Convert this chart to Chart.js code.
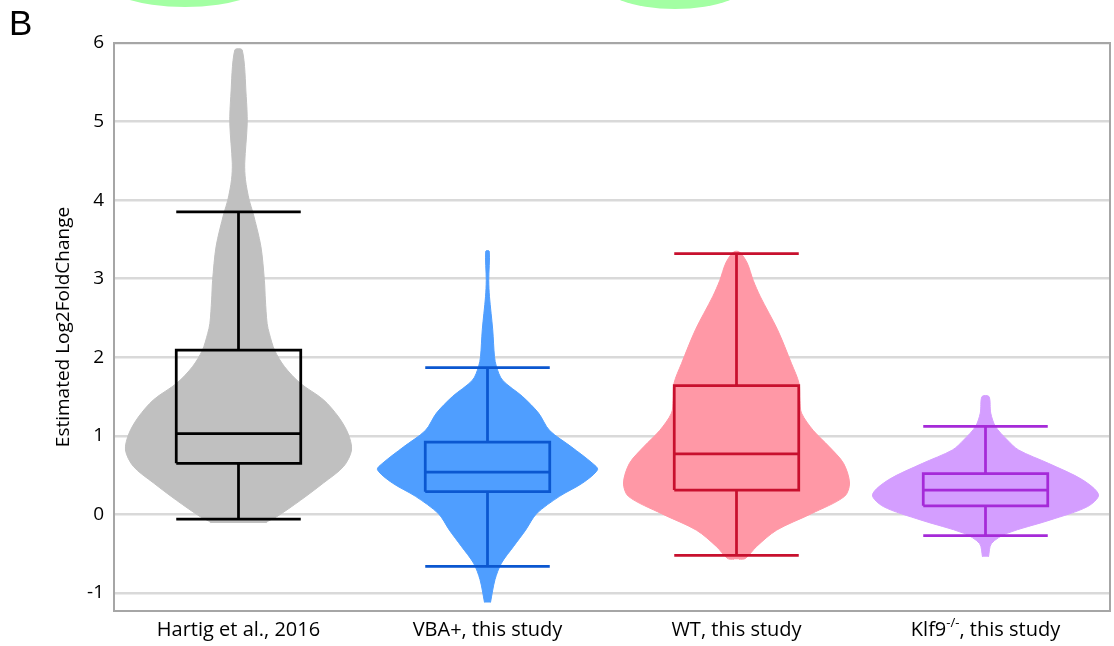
<!DOCTYPE html>
<html>
<head>
<meta charset="utf-8">
<script src="https://cdn.jsdelivr.net/npm/chart.js@4.4.1/dist/chart.umd.min.js"></script>
<style>
  body { margin: 0; background: #fff; overflow: hidden; }
  #wrap { position: relative; width: 1114px; height: 646px; }
  #chart { position: absolute; left: 0; top: 0; }
  .blob { position: absolute; background: #a3ffa3; border-radius: 50%; }
  #panel { position: absolute; left: 9px; top: 5px; font: 35px "Liberation Sans", Arial, sans-serif; color: #000; line-height: 35px; }
</style>
</head>
<body>
<div id="wrap">
  <canvas id="chart" width="1114" height="646"></canvas>
  <div class="blob" style="left:99px; top:-53px; width:172px; height:60px;"></div>
  <div class="blob" style="left:598px; top:-51px; width:154px; height:60px;"></div>
  <div id="panel">B</div>
</div>
<script>
// groups on the x axis
var categories = ['Hartig et al., 2016', 'VBA+, this study', 'WT, this study', 'Klf9-/-, this study'];
var yTicks = [-1, 0, 1, 2, 3, 4, 5, 6];

// box plot stats per group
var whiskerHigh = [3.85, 1.87, 3.32, 1.12];
var q3 = [2.09, 0.92, 1.64, 0.52];
var median = [1.03, 0.54, 0.77, 0.31];
var q1 = [0.65, 0.29, 0.31, 0.11];
var whiskerLow = [-0.06, -0.66, -0.52, -0.27];

// violin outlines: [value, half width in group units], bottom to top
var hartigDensity = [[-0.11, 0.112], [-0.09, 0.116], [-0.03, 0.153], [0.18, 0.249], [0.40, 0.341], [0.61, 0.422],
  [0.82, 0.454], [1.03, 0.440], [1.24, 0.402], [1.46, 0.341], [1.67, 0.248], [1.88, 0.185], [2.09, 0.145],
  [2.30, 0.124], [2.43, 0.115], [2.73, 0.108], [2.98, 0.104], [3.41, 0.090], [3.83, 0.059], [4.00, 0.043],
  [4.26, 0.028], [4.47, 0.025], [4.98, 0.035], [5.32, 0.031], [5.91, 0.015]];
var vbaDensity = [[-1.12, 0.012], [-0.83, 0.030], [-0.62, 0.056], [-0.41, 0.104], [-0.20, 0.153], [0.01, 0.197],
  [0.23, 0.289], [0.40, 0.382], [0.57, 0.442], [0.65, 0.422], [0.86, 0.337], [1.07, 0.249], [1.29, 0.205],
  [1.50, 0.141], [1.71, 0.060], [1.88, 0.036], [2.01, 0.028], [2.35, 0.021], [2.77, 0.008], [2.98, 0.005],
  [3.35, 0.007]];
var wtDensity = [[-0.57, 0.010], [-0.56, 0.036], [-0.41, 0.080], [-0.20, 0.161], [0.01, 0.301], [0.23, 0.434],
  [0.40, 0.454], [0.65, 0.430], [0.86, 0.373], [1.07, 0.308], [1.29, 0.261], [1.45, 0.255], [1.67, 0.251],
  [1.92, 0.221], [2.35, 0.165], [2.77, 0.096], [2.98, 0.067], [3.20, 0.043], [3.34, 0.012]];
var klf9Density = [[-0.54, 0.012], [-0.37, 0.024], [-0.24, 0.087], [-0.07, 0.261], [0.10, 0.410], [0.25, 0.454],
  [0.44, 0.390], [0.65, 0.253], [0.82, 0.133], [0.95, 0.087], [1.12, 0.040], [1.29, 0.021], [1.50, 0.014]];

var densities = [hartigDensity, vbaDensity, wtDensity, klf9Density];
var violinColors = ['#c0c0c0', '#4f9eff', '#ff98a6', '#d49eff'];
var lineColors = ['#000000', '#0b57d0', '#c8102e', '#a52ad8'];
var boxHalf = 0.25;
var font = '"Open Sans", sans-serif';

function violinPoints(i) {
  var d = densities[i];
  var pts = [];
  d.forEach(function (p) { pts.push({ x: i + p[1], y: p[0] }); });
  for (var k = d.length - 1; k >= 0; k--) pts.push({ x: i - d[k][1], y: d[k][0] });
  return pts;
}

function boxPoints(i) {
  var l = i - boxHalf, r = i + boxHalf;
  var gap = { x: null, y: null };
  return [
    { x: l, y: q1[i] }, { x: r, y: q1[i] }, { x: r, y: q3[i] }, { x: l, y: q3[i] }, { x: l, y: q1[i] }, gap,
    { x: l, y: median[i] }, { x: r, y: median[i] }, gap,
    { x: i, y: q3[i] }, { x: i, y: whiskerHigh[i] }, gap,
    { x: l, y: whiskerHigh[i] }, { x: r, y: whiskerHigh[i] }, gap,
    { x: i, y: q1[i] }, { x: i, y: whiskerLow[i] }, gap,
    { x: l, y: whiskerLow[i] }, { x: r, y: whiskerLow[i] }
  ];
}

var datasets = [];
categories.forEach(function (c, i) {
  datasets.push({
    label: c + ' violin',
    data: violinPoints(i),
    indexAxis: 'y',
    fill: 'shape',
    backgroundColor: violinColors[i],
    borderColor: violinColors[i],
    borderWidth: 1,
    pointRadius: 0,
    tension: 0.3,
    order: 2
  });
  datasets.push({
    label: c + ' box',
    data: boxPoints(i),
    indexAxis: 'y',
    fill: false,
    borderColor: lineColors[i],
    borderWidth: 2.75,
    pointRadius: 0,
    tension: 0,
    spanGaps: false,
    order: 1
  });
});

// category labels under the axis, with the superscript in Klf9-/-
var xLabels = {
  id: 'xLabels',
  afterDraw: function (chart) {
    var ctx = chart.ctx, xs = chart.scales.x;
    var y = xs.top + 19;
    var big = '20px ' + font, small = '13px ' + font;
    ctx.save();
    ctx.fillStyle = '#000';
    ctx.textBaseline = 'middle';
    categories.forEach(function (label, i) {
      var x = xs.getPixelForValue(i);
      var m = label.match(/^(.*?)(-\/-)(.*)$/);
      ctx.font = big;
      if (!m) {
        ctx.textAlign = 'center';
        ctx.fillText(label, x, y);
        return;
      }
      ctx.textAlign = 'left';
      var w1 = ctx.measureText(m[1]).width;
      var w3 = ctx.measureText(m[3]).width;
      ctx.font = small;
      var w2 = ctx.measureText(m[2]).width;
      var sx = x - (w1 + w2 + w3) / 2;
      ctx.font = big;
      ctx.fillText(m[1], sx, y);
      ctx.font = small;
      ctx.fillText(m[2], sx + w1, y - 7);
      ctx.font = big;
      ctx.fillText(m[3], sx + w1 + w2, y);
    });
    ctx.restore();
  }
};

var frame = {
  id: 'frame',
  afterDraw: function (chart) {
    var a = chart.chartArea, ctx = chart.ctx;
    ctx.save();
    ctx.strokeStyle = '#a6a6a6';
    ctx.lineWidth = 2;
    ctx.strokeRect(a.left, a.top, a.right - a.left, a.bottom - a.top);
    ctx.restore();
  }
};

var ctx = document.getElementById('chart').getContext('2d');
var myChart = new Chart(ctx, {
  type: 'line',
  data: { datasets: datasets },
  plugins: [xLabels, frame],
  options: {
    responsive: false,
    devicePixelRatio: 1,
    animation: false,
    events: [],
    indexAxis: 'y',
    layout: { padding: { top: 43, right: 4, left: 0, bottom: 0 } },
    plugins: { legend: { display: false }, tooltip: { enabled: false } },
    scales: {
      x: {
        type: 'linear',
        min: -0.5,
        max: 3.5,
        grid: { display: false },
        border: { display: false },
        ticks: { display: false },
        afterFit: function (scale) { scale.height = 35; }
      },
      y: {
        type: 'linear',
        min: -1.229,
        max: 6,
        grid: { color: '#d9d9d9', lineWidth: 2.5, drawTicks: false },
        border: { display: false },
        afterBuildTicks: function (scale) {
          scale.ticks = yTicks.map(function (v) { return { value: v }; });
        },
        ticks: {
          color: '#000',
          padding: 10,
          font: { family: font, size: 19 }
        },
        title: {
          display: true,
          text: 'Estimated Log2FoldChange',
          color: '#000',
          font: { family: font, size: 19 },
          padding: { top: 52, bottom: 0 }
        },
        afterFit: function (scale) { scale.width = 114; }
      }
    }
  }
});
</script>
</body>
</html>
